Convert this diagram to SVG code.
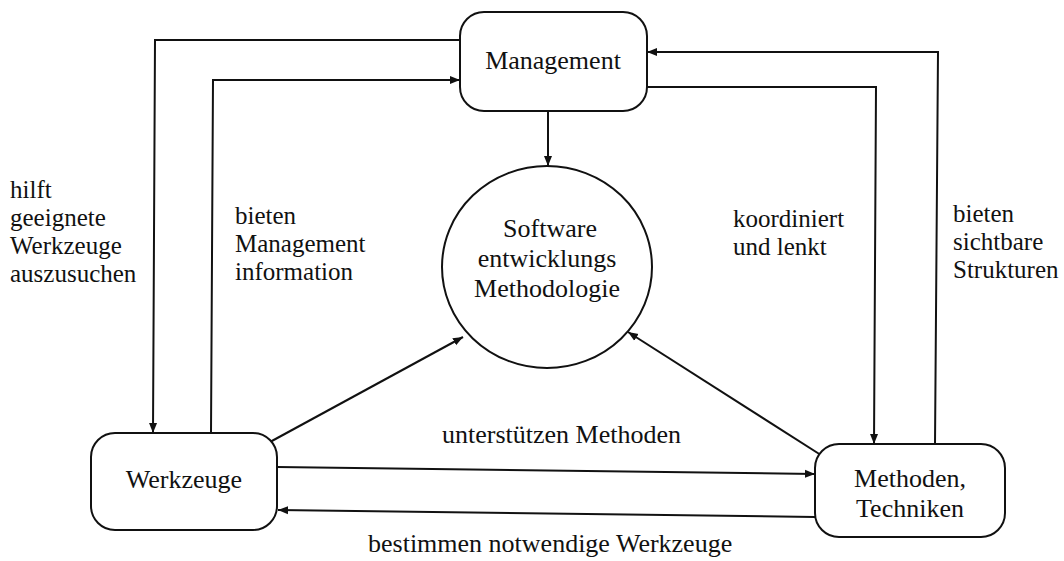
<svg xmlns="http://www.w3.org/2000/svg" width="1064" height="561" viewBox="0 0 1064 561">
  <style>
    .box { fill: #fff; stroke: #111; stroke-width: 2; }
    .lbl { font-family: "Liberation Serif", "Times New Roman", serif; font-size: 26px; fill: #111; }
    .note { font-size: 25px; }
    .mid { text-anchor: middle; }
    .con { fill: none; stroke: #111; stroke-width: 2; marker-end: url(#arr); }
  </style>
  <defs>
    <marker id="arr" viewBox="0 0 10 10" refX="10" refY="5" markerWidth="10" markerHeight="10" markerUnits="userSpaceOnUse" orient="auto">
      <path d="M0,1 L10,5 L0,9 Z" fill="#111"/>
    </marker>
  </defs>
  <rect width="1064" height="561" fill="#fff"/>

  <g id="connectors">
    <polyline class="con" points="460,40 155,40 153,433"/>
    <polyline class="con" points="211,433 213,80 460,80"/>
    <polyline class="con" points="935,444 938,52 647,52"/>
    <polyline class="con" points="647,87 876,87 874,444"/>
    <line class="con" x1="548" y1="112" x2="548" y2="166"/>
    <line class="con" x1="270" y1="442" x2="463" y2="337"/>
    <line class="con" x1="824" y1="457" x2="628" y2="332"/>
    <line class="con" x1="277" y1="467" x2="815" y2="474"/>
    <line class="con" x1="815" y1="517" x2="278" y2="510"/>
  </g>

  <g id="management">
    <rect class="box" x="460" y="12" width="187" height="99" rx="24"/>
    <text class="lbl mid" x="553" y="69">Management</text>
  </g>

  <g id="methodologie">
    <ellipse class="box" cx="547" cy="267" rx="105" ry="101"/>
    <text class="lbl mid" x="550" y="237">Software</text>
    <text class="lbl mid" x="547" y="267">entwicklungs</text>
    <text class="lbl mid" x="547" y="297">Methodologie</text>
  </g>

  <g id="werkzeuge">
    <rect class="box" x="91" y="433" width="186" height="97" rx="24"/>
    <text class="lbl mid" x="184" y="488">Werkzeuge</text>
  </g>

  <g id="methoden">
    <rect class="box" x="815" y="444" width="190" height="93" rx="24"/>
    <text class="lbl mid" x="910" y="487">Methoden,</text>
    <text class="lbl mid" x="910" y="517">Techniken</text>
  </g>

  <g id="labels">
    <text class="lbl note" x="10" y="198">hilft</text>
    <text class="lbl note" x="10" y="226">geeignete</text>
    <text class="lbl note" x="10" y="254">Werkzeuge</text>
    <text class="lbl note" x="10" y="282">auszusuchen</text>

    <text class="lbl note" x="235" y="224">bieten</text>
    <text class="lbl note" x="235" y="252">Management</text>
    <text class="lbl note" x="235" y="280">information</text>

    <text class="lbl note" x="733" y="227">koordiniert</text>
    <text class="lbl note" x="733" y="255">und lenkt</text>

    <text class="lbl note" x="953" y="222">bieten</text>
    <text class="lbl note" x="953" y="250">sichtbare</text>
    <text class="lbl note" x="953" y="278">Strukturen</text>

    <text class="lbl" x="442" y="443">unterstützen Methoden</text>
    <text class="lbl" x="368" y="552">bestimmen notwendige Werkzeuge</text>
  </g>
</svg>
